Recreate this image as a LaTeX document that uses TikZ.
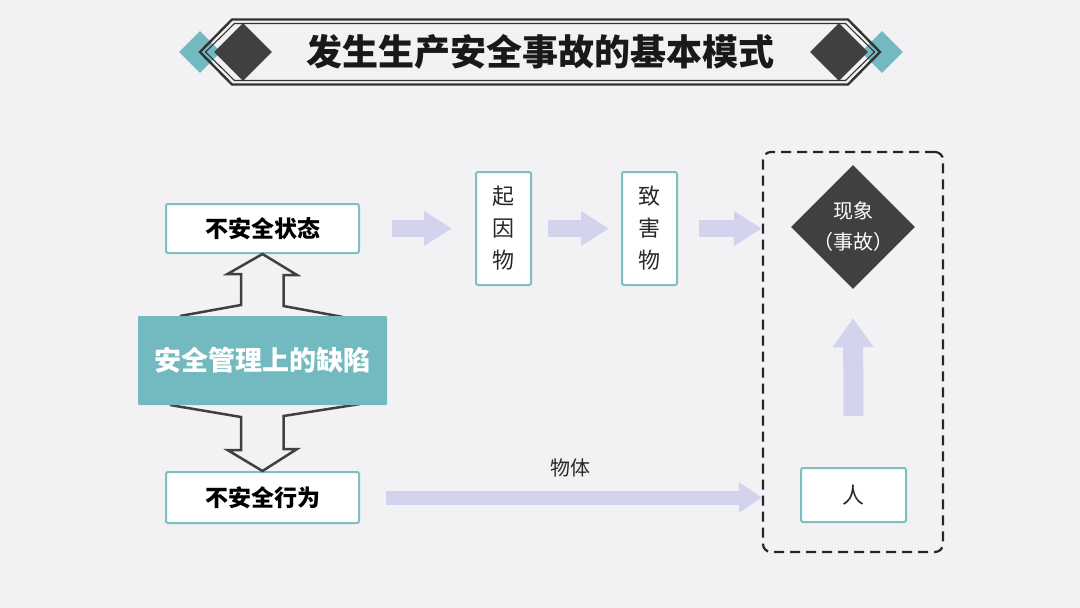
\documentclass[tikz,border=0pt]{standalone}
\usepackage{fontspec}
\setmainfont{Noto Sans CJK SC}
\usetikzlibrary{shapes.geometric,arrows.meta,calc}
\definecolor{bgc}{RGB}{242,242,244}
\definecolor{tealb}{RGB}{125,191,196}
\definecolor{tealf}{RGB}{114,186,192}
\definecolor{darkg}{RGB}{64,64,64}
\definecolor{lpurp}{RGB}{211,211,238}
\definecolor{txt}{RGB}{40,40,40}
\tikzset{
  wbox/.style={draw=tealb,line width=2pt,fill=white,rounded corners=2pt,inner sep=0pt},
  blabel/.style={font=\fontsize{23}{27}\selectfont\bfseries,text=black},
  vbox/.style={wbox,minimum width=55pt,minimum height=113pt,align=center,
    font=\fontsize{22}{32}\selectfont,text=txt},
  parrow/.style={draw=lpurp,line width=17pt,-{Triangle[length=28pt,width=33pt]}},
  hollow/.style={draw=darkg,line width=2.5pt,line join=miter},
  tdia/.style={diamond,aspect=1,inner sep=0pt,draw=none},
}
\begin{document}
\begin{tikzpicture}[x=1pt,y=-1pt]
\useasboundingbox (0,0) rectangle (1080,608);
\fill[bgc] (0,0) rectangle (1080,608);
% title banner
\node[tdia,fill=tealf,minimum size=42pt] (tl) at (200,52) {};
\node[tdia,fill=tealf,minimum size=42pt] (tr) at (882,52) {};
\draw[darkg!80!black,line width=2.4pt,line join=miter] (200,52) -- (232,19.5) -- (848,19.5) -- (880,52) -- (848,84.5) -- (232,84.5) -- cycle;
\draw[darkg!80!black,line width=1.1pt,line join=miter] (205.5,52) -- (234.5,23.5) -- (845.5,23.5) -- (874.5,52) -- (845.5,80.5) -- (234.5,80.5) -- cycle;
\node[tdia,fill=darkg,minimum size=58pt] (dl) at (243,52) {};
\node[tdia,fill=darkg,minimum size=58pt] (dr) at (839,52) {};
\node[font=\fontsize{36}{40}\selectfont\bfseries,text=black!90] (title) at (540,52) {发生生产安全事故的基本模式};
% left column
\node[wbox,minimum width=193pt,minimum height=49pt,blabel] (s1) at (262.5,228.5) {不安全状态};
\node[wbox,minimum width=193pt,minimum height=51pt,blabel] (s2) at (262.5,497.5) {不安全行为};
\draw[hollow] (180,316) -- ++(61,-11) -- ++(0,-31) -- ++(-13.5,0) -- (s1.south) -- ++(34.5,21) -- ++(-13.5,0) -- ++(0,31) -- ++(59.5,11);
\draw[hollow] (170,405) -- ++(71,12) -- ++(0,33) -- ++(-13.5,0) -- (s2.north) -- ++(34.5,-22) -- ++(-13.5,0) -- ++(0,-33) -- ++(76.5,-12);
\node[fill=tealf,minimum width=249pt,minimum height=89pt,inner sep=0pt,rounded corners=1pt,
  font=\fontsize{27}{32}\selectfont\bfseries,text=white] (m) at (262.5,360.5) {安全管理上的缺陷};
% middle
\node[vbox] (q1) at (503.5,228.5) {起\\因\\物};
\node[vbox] (q2) at (649.5,228.5) {致\\害\\物};
% right dashed frame
\node[draw=black!85,dash pattern=on 10pt off 6pt,line width=2.2pt,rounded corners=8pt,
  minimum width=180pt,minimum height=400pt,inner sep=0pt] (fr) at (853,352) {};
\node[tdia,fill=darkg,minimum size=124pt] (d) at (853,227) {};
\node[font=\fontsize{20}{31}\selectfont,text=white,align=center] (dt) at (d.center) {现象\\（事故）};
\node[wbox,minimum width=105pt,minimum height=54pt,font=\fontsize{22}{26}\selectfont,text=txt] (p) at (853.5,495) {人};
% purple arrows
\draw[parrow] ([xshift=32pt]s1.east) -- ([xshift=-23pt]q1.west);
\draw[parrow] ([xshift=16pt]q1.east) -- ([xshift=-12pt]q2.west);
\draw[parrow] ([xshift=21pt]q2.east) -- (fr.west |- q2.east);
\draw[draw=lpurp,line width=20pt,-{Triangle[length=29pt,width=39pt]}] ([yshift=51pt]p.north) -- ([yshift=-29pt]d.south);
\draw[draw=lpurp,line width=14pt,-{Triangle[length=23pt,width=29pt]}] ([xshift=26pt]s2.east) -- (fr.west |- s2.east) node[pos=0.49,above=10pt,font=\fontsize{20}{24}\selectfont,text=txt] (lb) {物体};
\end{tikzpicture}
\end{document}
